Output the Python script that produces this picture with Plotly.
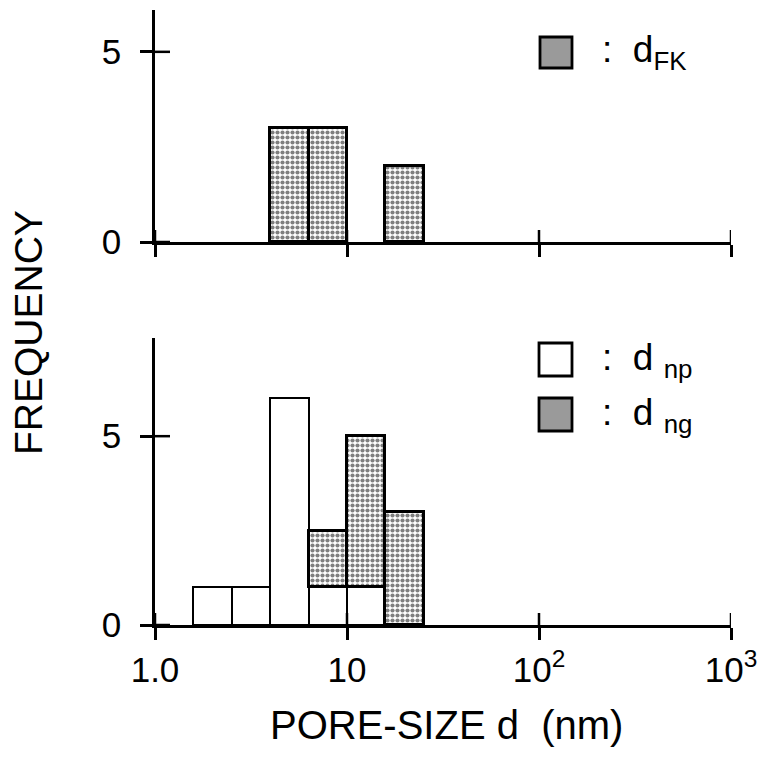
import plotly.graph_objects as go

# ---- data (log10 of pore size d in nm for bin edges) ----
bin_left_log = [0.2, 0.4, 0.6, 0.8, 1.0, 1.2]
bin_width_log = 0.2
d_fk = [None, None, 3, 3, None, 2]      # top panel
d_np = [1, 1, 6, 1, 1, None]            # bottom panel, white
d_ng = [None, None, None, 1.5, 4, 3]    # bottom panel, stippled (stacked on d_np)
x_tickvals = [0, 1, 2, 3]
x_ticktext = ["1.0", "10", "10<sup>2</sup>", "10<sup>3</sup>"]
y_tickvals = [0, 5]

centers = [b + bin_width_log / 2 for b in bin_left_log]
widths = [bin_width_log] * len(centers)

FONT = "Liberation Sans, Arial, sans-serif"
stipple = dict(shape=".", fgcolor="black", bgcolor="white", size=5, solidity=0.55)

fig = go.Figure()
fig.add_trace(go.Bar(x=centers, y=d_fk, width=widths, xaxis="x", yaxis="y",
                     marker=dict(color="white", pattern=stipple,
                                 line=dict(color="black", width=2.8)),
                     showlegend=False))
fig.add_trace(go.Bar(x=centers, y=d_np, width=widths, xaxis="x2", yaxis="y2",
                     marker=dict(color="white", line=dict(color="black", width=2.5)),
                     showlegend=False))
fig.add_trace(go.Bar(x=centers, y=d_ng, width=widths, xaxis="x2", yaxis="y2",
                     marker=dict(color="white", pattern=stipple,
                                 line=dict(color="black", width=2.8)),
                     showlegend=False))

L, R, T, B = 155, 38, 10, 133
W, H = 769, 758
pw, ph = W - L - R, H - T - B
def px(p):
    return (p - L) / pw
def py(p):
    return (H - B - p) / ph

tickfont = dict(family=FONT, size=35, color="black")
common_x = dict(range=[0, 3], showgrid=False, zeroline=False, showline=True,
                linecolor="black", linewidth=2.5, tickmode="array",
                tickvals=x_tickvals, ticktext=x_ticktext, ticklen=12,
                tickwidth=2.5, tickcolor="black", fixedrange=True, ticks="outside")
common_y = dict(showgrid=False, zeroline=False, showline=True, linecolor="black",
                linewidth=2.5, tickmode="array", tickvals=y_tickvals, ticklen=12,
                tickwidth=2.5, tickcolor="black", fixedrange=True, ticks="outside")

top_px = (10, 242)
bot_px = (338, 625)
top_dom = [py(top_px[1]), py(top_px[0])]
bot_dom = [py(bot_px[1]), py(bot_px[0])]
top_rng = [0, 6.1]
bot_rng = [0, 7.6]

fig.update_layout(
    width=W, height=H, margin=dict(l=L, r=R, t=T, b=B),
    paper_bgcolor="white", plot_bgcolor="rgba(0,0,0,0)",
    barmode="stack", bargap=0,
    font=dict(family=FONT, color="black"),
    xaxis=dict(common_x, anchor="y", showticklabels=False),
    yaxis=dict(common_y, anchor="x", domain=top_dom, range=top_rng,
               tickfont=tickfont, ticklabelstandoff=12),
    xaxis2=dict(common_x, anchor="y2", tickfont=tickfont, ticklabelstandoff=0),
    yaxis2=dict(common_y, anchor="x2", domain=bot_dom, range=bot_rng,
                tickfont=tickfont, ticklabelstandoff=12),
)

# inner halves of the crossing ticks
tick_line = dict(color="black", width=2.5)
for xr, yr, (p0, p1) in (("x", "y", top_px), ("x2", "y2", bot_px)):
    hpx = p1 - p0
    for tv in x_tickvals:
        fig.add_shape(type="line", xref=xr, yref=yr + " domain", x0=tv, x1=tv,
                      y0=0, y1=12 / hpx, line=tick_line)
    for tv in y_tickvals:
        fig.add_shape(type="line", xref=xr + " domain", yref=yr, y0=tv, y1=tv,
                      x0=0, x1=15 / pw, line=tick_line)

# legend boxes and texts
boxes = [(540, 37, 572, 68, "#9a9a9a"), (539, 343, 572, 376, "white"), (539, 398, 572, 431, "#9a9a9a")]
for x0, y0, x1, y1, col in boxes:
    fig.add_shape(type="rect", xref="paper", yref="paper", x0=px(x0), x1=px(x1),
                  y0=py(y1), y1=py(y0), fillcolor=col, line=dict(color="black", width=2.8))
leg_texts = [(":  d<sub>FK</sub>", 52), (":  d <sub>np</sub>", 360), (":  d <sub>ng</sub>", 415)]
for txt, yc in leg_texts:
    fig.add_annotation(xref="paper", yref="paper", x=px(600), y=py(yc), text=txt,
                       showarrow=False, xanchor="left", yanchor="middle",
                       font=dict(family=FONT, size=37, color="black"))

fig.add_annotation(xref="paper", yref="paper", x=px(29), y=py(333), text="FREQUENCY",
                   textangle=-90, showarrow=False, xanchor="center", yanchor="middle",
                   font=dict(family=FONT, size=39, color="black"))
fig.add_annotation(xref="paper", yref="paper", x=px(446), y=py(725), text="PORE-SIZE d  (nm)",
                   showarrow=False, xanchor="center", yanchor="middle",
                   font=dict(family=FONT, size=40, color="black"))

fig.write_html("out.html")
